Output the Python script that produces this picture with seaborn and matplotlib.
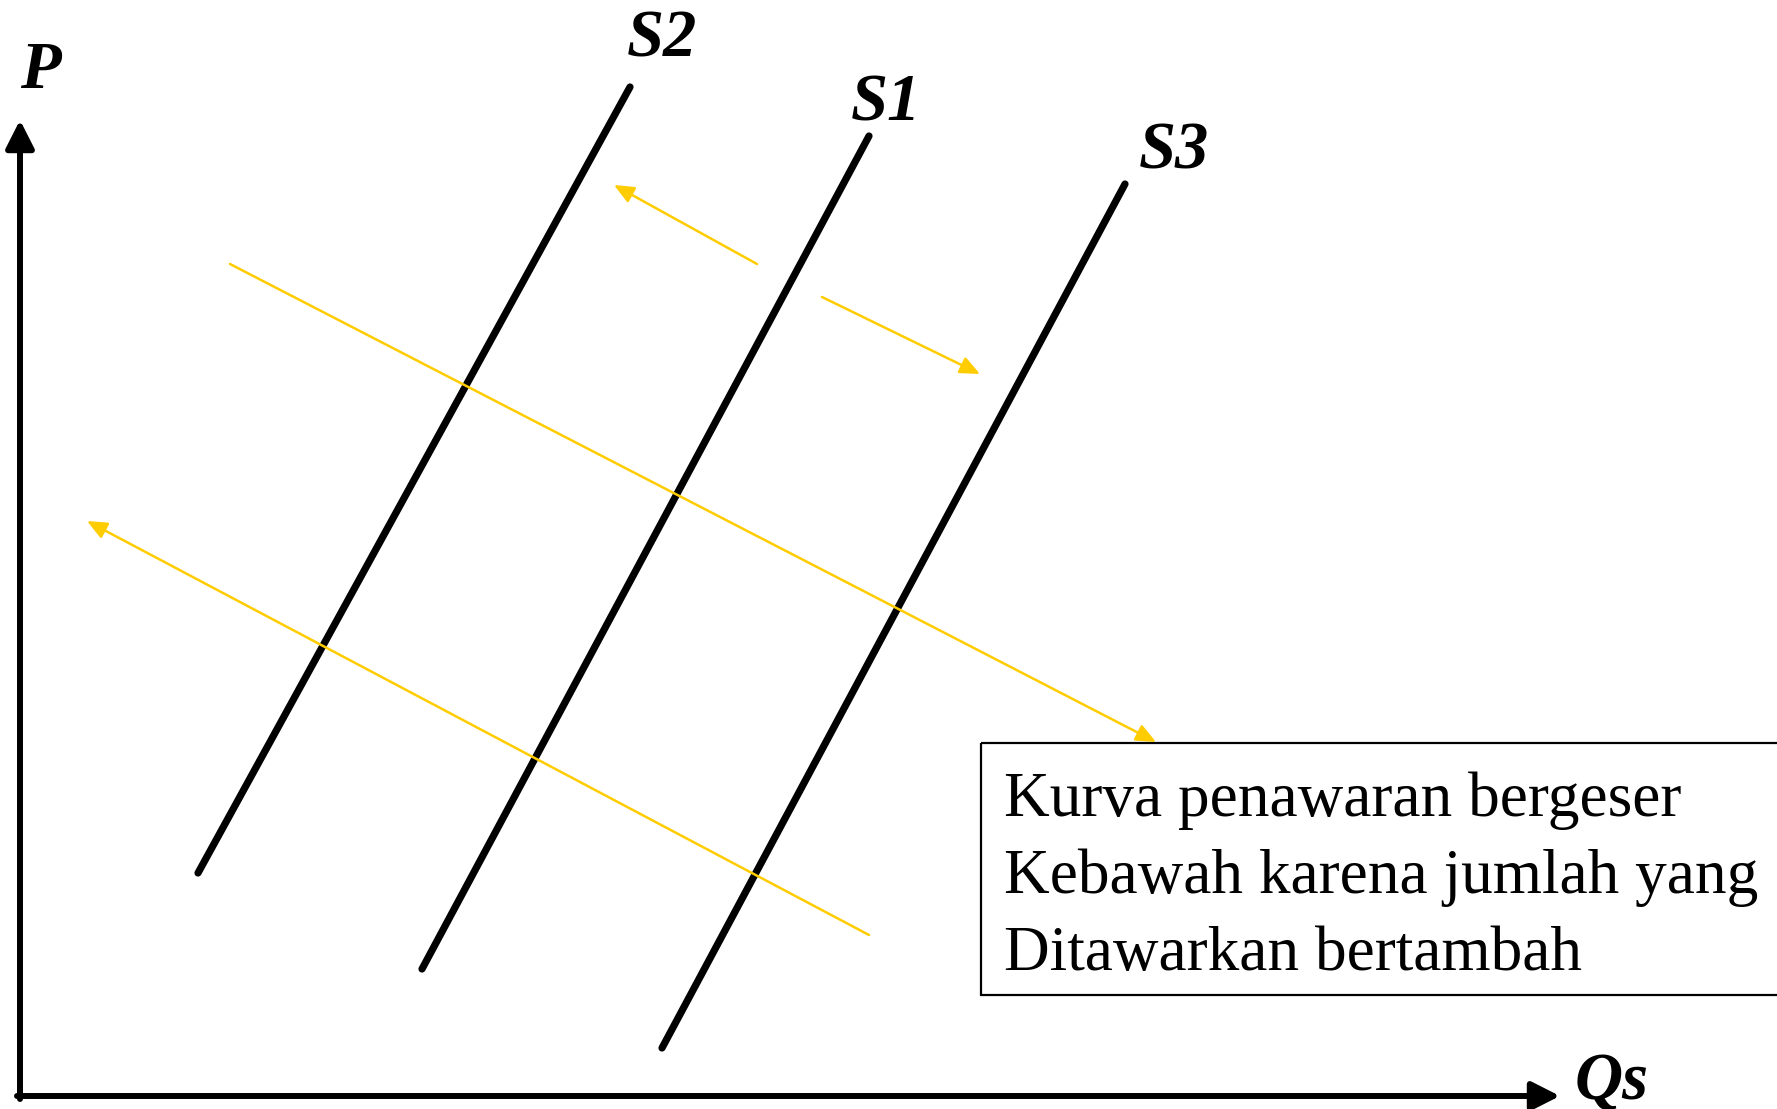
import numpy as np
import pandas as pd
import matplotlib
matplotlib.use("Agg")
import matplotlib.pyplot as plt
import seaborn as sns
from matplotlib.patches import Rectangle

# supply curves (canvas pixel coords, y down)
curves = ["S2", "S1", "S3"]
curve_x0 = [198, 422, 662]
curve_y0 = [873, 969, 1048]
curve_x1 = [630, 869, 1125]
curve_y1 = [87, 136, 184]
label_x = [662, 886, 1174]
label_y = [40, 104, 152]

# yellow shift arrows: tail -> head
shift_tail_x = [230, 869, 757, 822]
shift_tail_y = [264, 935, 264, 297]
shift_head_x = [1156, 87, 614, 980]
shift_head_y = [742, 521, 185, 374]

box_lines = ["Kurva penawaran bergeser",
             "Kebawah karena jumlah yang",
             "Ditawarkan bertambah"]

sns.set_theme(style="white")
plt.rcParams['font.family'] = ['Liberation Serif', 'DejaVu Serif']

fig = plt.figure(figsize=(17.77, 11.09), dpi=100)
ax = fig.add_axes([0, 0, 1, 1])

df = pd.DataFrame({
    "curve": np.repeat(curves, 2),
    "x": np.ravel(np.column_stack([curve_x0, curve_x1])),
    "y": np.ravel(np.column_stack([curve_y0, curve_y1])),
})
sns.lineplot(data=df, x="x", y="y", hue="curve", units="curve", estimator=None,
             sort=False, palette=["black"] * 3, linewidth=5.2, legend=False, ax=ax)
ax.set_xlim(0, 1777)
ax.set_ylim(1109, 0)
ax.axis("off")

for name, lx, ly in zip(curves, label_x, label_y):
    ax.text(lx, ly, name, fontsize=48, fontweight="bold", fontstyle="italic",
            ha="center", va="center", color="black")

# axes with arrows
axis_kw = dict(arrowstyle="-|>,head_length=0.85,head_width=0.43", color="black",
               lw=4.3, shrinkA=0, shrinkB=0, mutation_scale=20)
ax.annotate("", xy=(20, 120), xytext=(20, 1099), arrowprops=axis_kw)
ax.annotate("", xy=(1560, 1096), xytext=(17, 1096), arrowprops=axis_kw)
ax.text(40, 71, "P", fontsize=48, fontweight="bold", fontstyle="italic",
        ha="center", va="center", color="black")
ax.text(1612, 1082, "Qs", fontsize=48, fontweight="bold", fontstyle="italic",
        ha="center", va="center", color="black")

# shift arrows
for tx, ty, hx, hy in zip(shift_tail_x, shift_tail_y, shift_head_x, shift_head_y):
    ax.annotate("", xy=(hx, hy), xytext=(tx, ty),
                arrowprops=dict(arrowstyle="-|>,head_length=0.8,head_width=0.35",
                                color="#FFCC00", lw=1.8, shrinkA=0, shrinkB=0,
                                mutation_scale=15))

# text box
ax.add_patch(Rectangle((981, 743), 900, 252, fill=False, edgecolor="black", lw=1.6))
for i, line in enumerate(box_lines):
    ax.text(1004, 816 + i * 77, line, fontsize=45.5, ha="left", va="baseline",
            color="black")

fig.savefig("out.png", dpi=100)
